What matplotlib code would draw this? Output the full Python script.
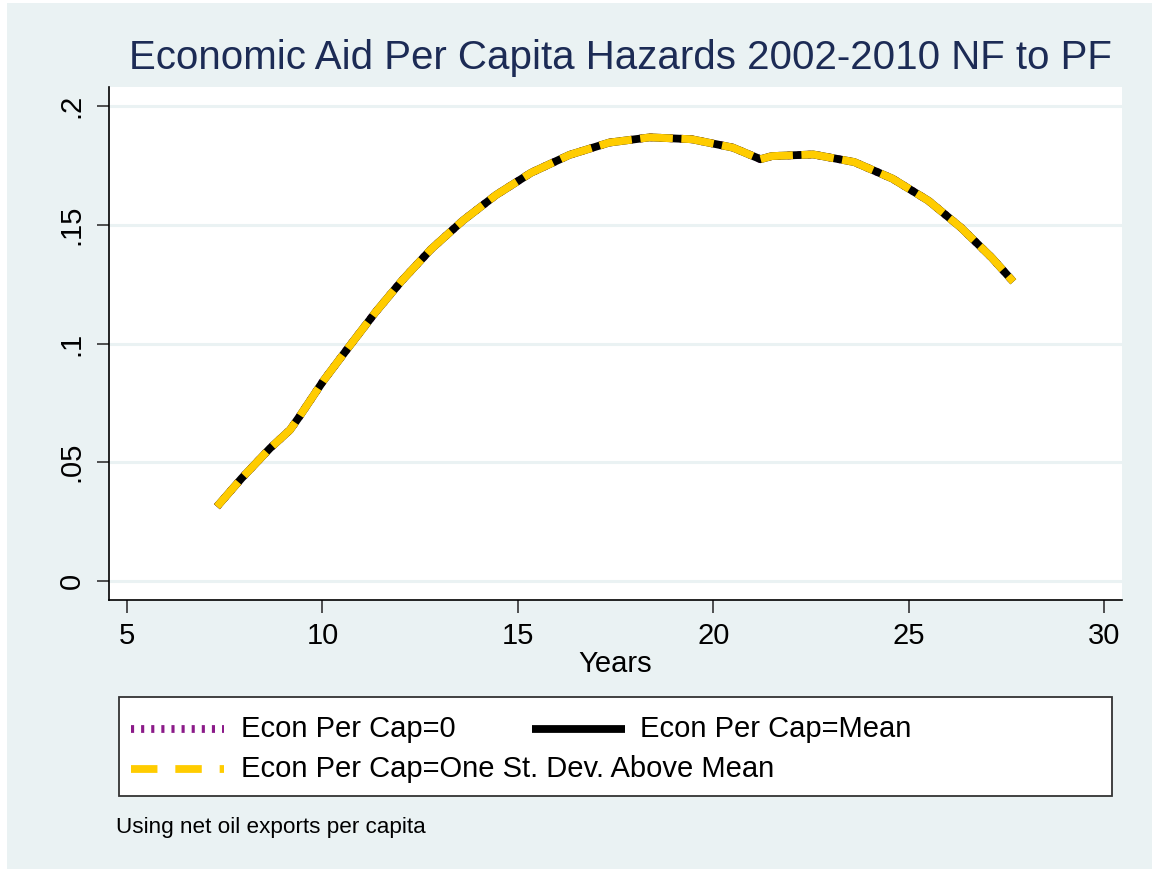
import matplotlib
matplotlib.use("Agg")
import matplotlib.pyplot as plt
from matplotlib.lines import Line2D
from matplotlib.patches import Rectangle

plt.rcParams['font.family'] = ['Liberation Sans', 'DejaVu Sans']

# ---- data ----
years = [7.30, 7.93, 8.66, 9.17, 9.41, 10.02, 10.66, 11.35, 12.03, 12.78,
         13.59, 14.44, 15.34, 16.32, 17.34, 18.38, 19.45, 20.50, 21.21,
         21.50, 22.56, 23.61, 24.59, 25.51, 26.34, 27.13, 27.68]
hazard_zero = [0.0313, 0.0432, 0.0559, 0.0636, 0.0692, 0.0842, 0.0982, 0.1130,
               0.1264, 0.1397, 0.1517, 0.1625, 0.1719, 0.1794, 0.1846, 0.1868,
               0.1860, 0.1825, 0.1776, 0.1789, 0.1796, 0.1764, 0.1694, 0.1601,
               0.1488, 0.1361, 0.1260]
hazard_mean = [0.0313, 0.0432, 0.0559, 0.0636, 0.0692, 0.0842, 0.0982, 0.1130,
               0.1264, 0.1397, 0.1517, 0.1625, 0.1719, 0.1794, 0.1846, 0.1868,
               0.1860, 0.1825, 0.1776, 0.1789, 0.1796, 0.1764, 0.1694, 0.1601,
               0.1488, 0.1361, 0.1260]
hazard_sd = [0.0313, 0.0432, 0.0559, 0.0636, 0.0692, 0.0842, 0.0982, 0.1130,
             0.1264, 0.1397, 0.1517, 0.1625, 0.1719, 0.1794, 0.1846, 0.1868,
             0.1860, 0.1825, 0.1776, 0.1789, 0.1796, 0.1764, 0.1694, 0.1601,
             0.1488, 0.1361, 0.1260]
labels = ["Econ Per Cap=0", "Econ Per Cap=Mean",
          "Econ Per Cap=One St. Dev. Above Mean"]
x_ticks = [5, 10, 15, 20, 25, 30]
y_ticks = [0, 0.05, 0.1, 0.15, 0.2]
y_ticklabels = ["0", ".05", ".1", ".15", ".2"]

BG = "#EAF2F3"
PURPLE = "#8B1A89"
GOLD = "#FFCC00"
TITLE_C = "#1C2B55"

W, H = 1152, 869
fig = plt.figure(figsize=(W / 100, H / 100), dpi=100, facecolor="white")
fig.patches.append(Rectangle((7 / W, 0), 1 - 7 / W, 1 - 3 / H,
                             transform=fig.transFigure, facecolor=BG,
                             edgecolor="none", zorder=-10))

ax = fig.add_axes([109 / W, 1 - 600 / H, (1122 - 109) / W, (600 - 87) / H])
ax.set_facecolor("white")
ax.set_xlim(4.539, 30.461)
ax.set_ylim(-0.0080, 0.2080)

lw = 5.6
ax.plot(years, hazard_zero, color=PURPLE, lw=lw, linestyle=(0, (0.4, 0.9)),
        dash_capstyle="butt", zorder=3)
ax.plot(years, hazard_mean, color="black", lw=lw, solid_capstyle="butt",
        zorder=4)
ax.plot(years, hazard_sd, color=GOLD, lw=lw, linestyle=(0, (4.2, 1.1)),
        dash_capstyle="butt", zorder=5)

ax.set_xticks(x_ticks)
ax.set_yticks(y_ticks)
ax.set_yticklabels(y_ticklabels, rotation=90, va="center")
ax.tick_params(axis="both", labelsize=21, length=9, width=1.2,
               color="#333333", pad=7)
ax.tick_params(axis="y", pad=8)
ax.grid(axis="y", color=BG, lw=2.2)
ax.set_axisbelow(True)
for s in ["top", "right"]:
    ax.spines[s].set_visible(False)
for s in ["left", "bottom"]:
    ax.spines[s].set_color("black")
    ax.spines[s].set_linewidth(1.2)

fig.text(620 / W, 1 - 58 / H,
         "Economic Aid Per Capita Hazards 2002-2010 NF to PF",
         ha="center", va="center", fontsize=29, color=TITLE_C)
fig.text(615 / W, 1 - 664 / H, "Years", ha="center", va="center",
         fontsize=21, color="black")

# ---- legend (Stata-style layout) ----
fig.patches.append(Rectangle((119 / W, 1 - 796 / H), (1112 - 119) / W,
                             (796 - 697) / H, transform=fig.transFigure,
                             facecolor="white", edgecolor="#333333", lw=1.3))
r1 = 1 - 729 / H
r2 = 1 - 769 / H
fig.add_artist(Line2D([131 / W, 224 / W], [r1, r1], transform=fig.transFigure,
                      color=PURPLE, lw=lw, linestyle=(0, (0.4, 0.9)),
                      dash_capstyle="butt"))
fig.add_artist(Line2D([532 / W, 625 / W], [r1, r1], transform=fig.transFigure,
                      color="black", lw=lw, solid_capstyle="butt"))
fig.add_artist(Line2D([131 / W, 224 / W], [r2, r2], transform=fig.transFigure,
                      color=GOLD, lw=lw, linestyle=(0, (3.4, 2.3)),
                      dash_capstyle="butt"))
fig.text(241 / W, r1, labels[0], ha="left", va="center", fontsize=21)
fig.text(640 / W, r1, labels[1], ha="left", va="center", fontsize=21)
fig.text(241 / W, r2, labels[2], ha="left", va="center", fontsize=21)

fig.text(116 / W, 1 - 828 / H, "Using net oil exports per capita",
         ha="left", va="center", fontsize=16.2)

fig.savefig("out.png", dpi=100, facecolor="white")
